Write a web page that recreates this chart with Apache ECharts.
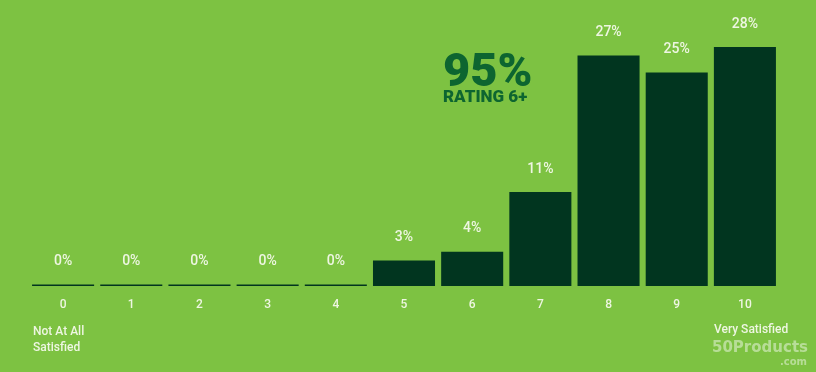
<!DOCTYPE html>
<html><head><meta charset="utf-8">
<script src="https://cdn.jsdelivr.net/npm/echarts@6/dist/echarts.min.js"></script>
<style>html,body{margin:0;padding:0;background:#7dc242;}#c{width:816px;height:372px;}</style>
</head><body><div id="c"></div>
<script>
const categories = ['0','1','2','3','4','5','6','7','8','9','10'];
const percentValues = [0,0,0,0,0,3,4,11,27,25,28];
const headlineValue = '95%';
const headlineCaption = 'RATING 6+';
const lowLabel = 'Not At All\nSatisfied';
const highLabel = 'Very Satisfied';

const txt = '#eef6e2';
const chart = echarts.init(document.getElementById('c'), null, {renderer:'canvas'});
chart.setOption({
  backgroundColor:'#7dc242',
  animation:false,
  grid:{left:29, right:37, top:47, bottom:86},
  xAxis:{type:'category', data:categories,
    axisLine:{show:false}, axisTick:{show:false},
    axisLabel:{color:txt, fontSize:12, fontWeight:500, fontFamily:'Roboto, sans-serif', margin:13}},
  yAxis:{type:'value', min:0, max:28, show:false, splitLine:{show:false}},
  series:[{type:'bar', data:percentValues, barCategoryGap:'9%', barMinHeight:1.5,
    itemStyle:{color:'#01351f'},
    label:{show:true, position:'top', distance:16, formatter:'{c}%', color:txt, fontSize:14, fontWeight:500,
      fontFamily:'Roboto, sans-serif'}}],
  graphic:[
    {type:'text', left:443, top:51, style:{text:headlineValue, fill:'#0d6530', font:'900 47px Roboto, sans-serif'}},
    {type:'text', left:443, top:89, style:{text:headlineCaption, fill:'#0d6530', font:'900 17px Roboto, sans-serif'}},
    {type:'text', left:33, top:324, style:{text:lowLabel, fill:txt, font:'500 12px Roboto, sans-serif', lineHeight:16}},
    {type:'text', left:714, top:324, style:{text:highLabel, fill:txt, font:'500 12px Roboto, sans-serif'}},
    {type:'text', left:712, top:341, style:{text:'50Products', fill:'rgba(255,255,255,0.45)', font:'bold 15px "DejaVu Sans", sans-serif'}},
    {type:'text', left:780, top:357, style:{text:'.com', fill:'rgba(255,255,255,0.45)', font:'bold 10px "DejaVu Sans", sans-serif'}}
  ]
});
</script></body></html>
